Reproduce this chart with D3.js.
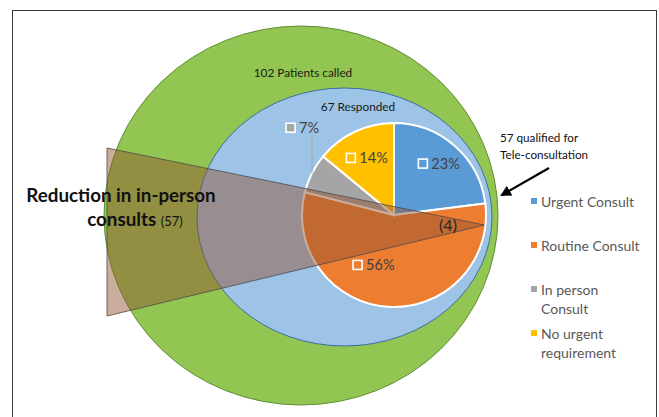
<!doctype html>
<html lang="en">
<head>
  <meta charset="UTF-8">
  <title>Tele-consultation</title>
  <script src="https://d3js.org/d3.v7.min.js"></script>
  <style>
    body { margin: 0; background: #fff; }
    text { font-family: Lato, "Open Sans", sans-serif; }
  </style>
</head>
<body>
  <script>

    // data
    var categories = ["Urgent Consult", "Routine Consult", "In person Consult", "No urgent requirement"]
      , legendLines = [["Urgent Consult"], ["Routine Consult"], ["In person", "Consult"], ["No urgent", "requirement"]]
      , shares = [23, 56, 7, 14]
      , colors = ["#5B9BD5", "#ED7D31", "#A5A5A5", "#FFC000"]
      , patientsCalled = 102
      , responded = 67
      , qualified = 57
      , remaining = 4
      ;

    var width = 659, height = 417;

    var svg = d3.select("body").append("svg")
      .attr("width", width)
      .attr("height", height);

    // frame
    svg.append("rect")
      .attr("x", 12.5).attr("y", 10.5)
      .attr("width", 644).attr("height", 430)
      .attr("fill", "#fff")
      .attr("stroke", "#3a3a3a");

    // outer ellipse - patients called
    svg.append("ellipse")
      .attr("cx", 301).attr("cy", 215.5)
      .attr("rx", 197).attr("ry", 189.5)
      .attr("fill", "#92C551")
      .attr("stroke", "#5f8f34");

    svg.append("text")
      .attr("x", 303).attr("y", 77)
      .attr("text-anchor", "middle")
      .attr("font-size", 11.8)
      .attr("fill", "#1a1a1a")
      .text(patientsCalled + " Patients called");

    // middle ellipse - responded
    svg.append("ellipse")
      .attr("cx", 344.5).attr("cy", 217)
      .attr("rx", 147.5).attr("ry", 129)
      .attr("fill", "#9DC3E6")
      .attr("stroke", "#3b6ea5");

    svg.append("text")
      .attr("x", 358).attr("y", 111)
      .attr("text-anchor", "middle")
      .attr("font-size", 11.8)
      .attr("fill", "#1a1a1a")
      .text(responded + " Responded");

    // pie
    var cx = 394, cy = 215, r = 92;

    var pie = d3.pie().sort(null).value(function(d) { return d; });
    var arcs = pie(shares);
    var arc = d3.arc().innerRadius(0).outerRadius(r);
    var labelArc = d3.arc().innerRadius(r * 0.68).outerRadius(r * 0.68);

    var g = svg.append("g").attr("transform", "translate(" + cx + "," + cy + ")");

    g.selectAll("path.slice")
      .data(arcs)
      .enter()
      .append("path")
      .attr("class", "slice")
      .attr("d", arc)
      .attr("fill", function(d, i) { return colors[i]; })
      .attr("stroke", "#fff")
      .attr("stroke-width", 2);

    // reduction funnel (drawn over the pie)
    var apex = [cx + r * 0.98, cy + 10];
    svg.append("path")
      .attr("d", d3.line()([[107, 148], apex, [107, 316]]) + "Z")
      .attr("fill", "rgba(147, 83, 53, 0.48)")
      .attr("stroke", "#4a4a4a")
      .attr("stroke-width", 0.8);

    // data labels
    var labelNudge = [[4, -4], [-16, -12], [0, 0], [0, 0]];

    var labels = g.selectAll("g.lbl")
      .data(arcs)
      .enter()
      .append("g")
      .attr("class", "lbl")
      .attr("transform", function(d, i) {
        var p;
        if (i === 2) {
          // in-person slice labelled above with a leader
          var a = (d.startAngle + d.endAngle) / 2;
          p = [Math.sin(a) * r - 5, -Math.cos(a) * r - 45];
        } else {
          p = labelArc.centroid(d);
          p = [p[0] + labelNudge[i][0], p[1] + labelNudge[i][1]];
        }
        return "translate(" + p[0] + "," + p[1] + ")";
      });

    labels.append("rect")
      .attr("x", -21).attr("y", -5)
      .attr("width", 9).attr("height", 9)
      .attr("fill", function(d, i) { return colors[i]; })
      .attr("stroke", "#fff")
      .attr("stroke-width", 1.6);

    labels.append("text")
      .attr("x", -8).attr("y", 5)
      .attr("font-size", 14.5)
      .attr("fill", "#404040")
      .text(function(d) { return d.data + "%"; });

    // leader for 7%
    var gray = arcs[2], ga = (gray.startAngle + gray.endAngle) / 2;
    g.append("line")
      .attr("x1", Math.sin(ga) * r).attr("y1", -Math.cos(ga) * r)
      .attr("x2", Math.sin(ga) * r).attr("y2", -Math.cos(ga) * r - 38)
      .attr("stroke", "#a6a6a6")
      .attr("stroke-width", 1);

    svg.append("text")
      .attr("x", 448).attr("y", 231)
      .attr("text-anchor", "middle")
      .attr("font-size", 16)
      .attr("fill", "#262626")
      .text("(" + remaining + ")");

    // funnel caption
    var cap = svg.append("text")
      .attr("font-size", 18.8)
      .attr("font-weight", "bold")
      .attr("fill", "#111")
      .attr("text-anchor", "middle");
    cap.append("tspan").attr("x", 121).attr("y", 202).text("Reduction in in-person");
    var l2 = cap.append("tspan").attr("x", 135).attr("y", 226);
    l2.append("tspan").text("consults ");
    l2.append("tspan").attr("font-weight", "normal").attr("font-size", 13).text("(" + qualified + ")");

    // qualified annotation + arrow
    svg.append("defs").append("marker")
      .attr("id", "ah")
      .attr("viewBox", "0 0 10 10")
      .attr("refX", 8).attr("refY", 5)
      .attr("markerWidth", 5).attr("markerHeight", 5)
      .attr("orient", "auto")
      .append("path").attr("d", "M0,0L10,5L0,10Z").attr("fill", "#000");

    svg.append("line")
      .attr("x1", 549).attr("y1", 168)
      .attr("x2", 502).attr("y2", 195)
      .attr("stroke", "#000")
      .attr("stroke-width", 2.2)
      .attr("marker-end", "url(#ah)");

    var q = svg.append("text").attr("font-size", 11.7).attr("fill", "#111");
    q.append("tspan").attr("x", 500).attr("y", 142).text(qualified + " qualified for");
    q.append("tspan").attr("x", 500).attr("y", 159).text("Tele-consultation");

    // legend
    var legendTop = [202, 246, 290, 334];
    var leg = svg.selectAll("g.leg")
      .data(categories)
      .enter()
      .append("g")
      .attr("class", "leg")
      .attr("transform", function(d, i) { return "translate(531," + legendTop[i] + ")"; });

    leg.append("rect")
      .attr("x", 0).attr("y", -4)
      .attr("width", 6).attr("height", 6)
      .attr("fill", function(d, i) { return colors[i]; });

    leg.append("text")
      .attr("font-size", 14)
      .attr("fill", "#595959")
      .selectAll("tspan")
      .data(function(d, i) { return legendLines[i]; })
      .enter()
      .append("tspan")
      .attr("x", 10)
      .attr("y", function(d, j) { return 5 + j * 19; })
      .text(function(d) { return d; });

  </script>
</body>
</html>
